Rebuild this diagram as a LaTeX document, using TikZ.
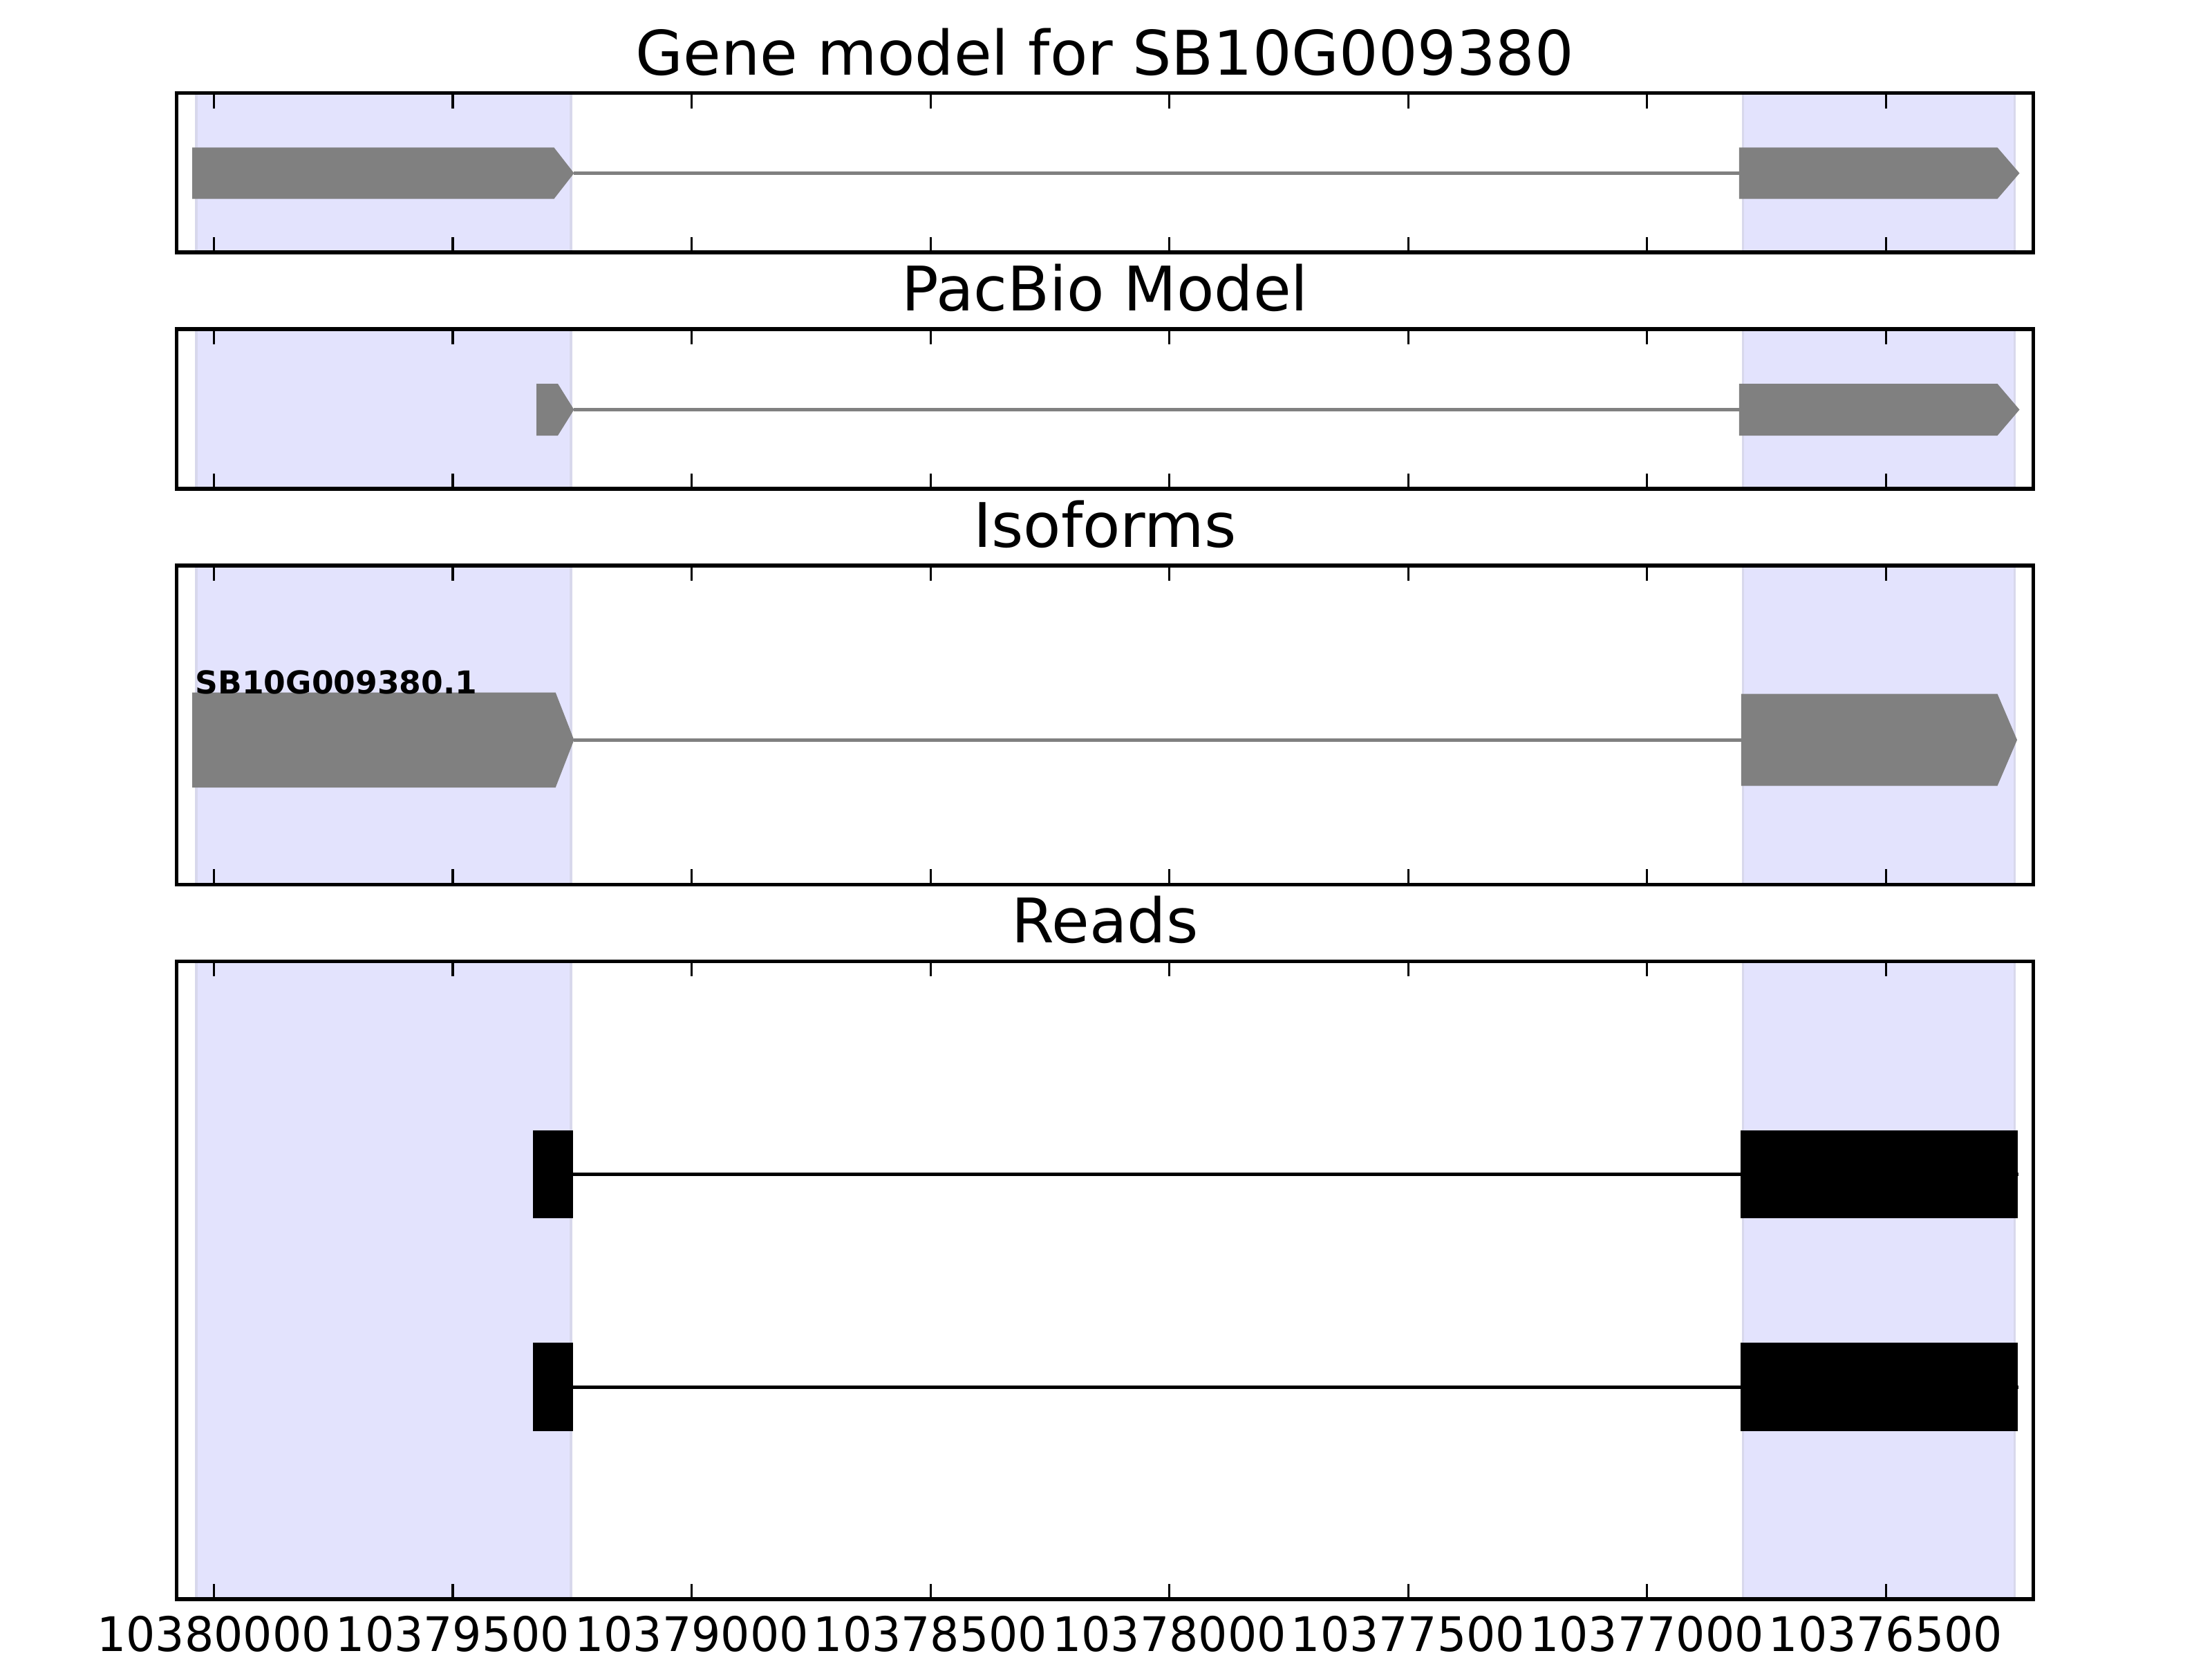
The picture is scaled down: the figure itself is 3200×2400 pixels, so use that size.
\documentclass[tikz,border=0pt]{standalone}
\usepackage{fontspec}
\setmainfont{DejaVu Sans}
\newfontfamily\tickfont[FakeStretch=0.965]{DejaVu Sans}
\definecolor{spanfillc}{RGB}{227,227,253}
\definecolor{spanedgec}{RGB}{216,216,236}
\definecolor{exongray}{RGB}{128,128,128}
\tikzset{
  axbox/.style={draw=black, line width=1pt},
  spanbox/.style={fill=spanfillc, draw=spanedgec, line width=0.55pt},
  exonshape/.style={fill=exongray, draw=none},
  intronline/.style={draw=exongray, line width=0.9pt},
  readexon/.style={fill=black, draw=none},
  readline/.style={draw=black, line width=0.85pt},
  tickmark/.style={draw=black, line width=0.55pt},
  ticklbl/.style={font=\tickfont\fontsize{12.4}{14}\selectfont, anchor=base, inner sep=0pt, outer sep=0pt},
  paneltitle/.style={font=\fontsize{16}{19}\selectfont, anchor=base, inner sep=0pt, outer sep=0pt},
  isolbl/.style={font=\bfseries\fontsize{8.2}{10}\selectfont, anchor=base west, inner sep=0pt, outer sep=0pt},
}
\begin{document}
\begin{tikzpicture}[x=0.18pt, y=-0.18pt]
\useasboundingbox (0,0) rectangle (3200,2400);
\fill[white] (0,0) rectangle (3200,2400);

% blue spans in every panel
\foreach \top/\bot in {134.5/365.2, 476.2/706.9, 817.9/1279.3, 1390.3/2313.1}{
  \draw[spanbox] (284,\top) rectangle (826,\bot);
  \draw[spanbox] (2521.3,\top) rectangle (2914.3,\bot);
}

% Panel 1: gene model
\coordinate (g1e) at (830.4,250.5);
\coordinate (g2s) at (2515.7,250.5);
\fill[exonshape] (278,213.3) -- (801.4,213.3) -- (g1e) -- (801.4,287.7) -- (278,287.7) -- cycle;
\draw[intronline] (g1e) -- (g2s);
\fill[exonshape] (2515.7,213.3) -- (2889.5,213.3) -- (2921.5,250.5) -- (2889.5,287.7) -- (2515.7,287.7) -- cycle;

% Panel 2: PacBio model
\coordinate (p1e) at (830.4,592.5);
\coordinate (p2s) at (2515.7,592.5);
\fill[exonshape] (776,555) -- (807,555) -- (p1e) -- (807,630) -- (776,630) -- cycle;
\draw[intronline] (p1e) -- (p2s);
\fill[exonshape] (2515.7,555) -- (2889.5,555) -- (2921.5,592.5) -- (2889.5,630) -- (2515.7,630) -- cycle;

% Panel 3: isoforms
\coordinate (i1e) at (830.4,1070.2);
\coordinate (i2s) at (2518.7,1070.2);
\fill[exonshape] (278,1001.5) -- (803.7,1001.5) -- (i1e) -- (803.7,1139) -- (278,1139) -- cycle;
\draw[intronline] (i1e) -- (i2s);
\fill[exonshape] (2518.7,1003.5) -- (2889.5,1003.5) -- (2918,1070.2) -- (2889.5,1136.7) -- (2518.7,1136.7) -- cycle;
\node[isolbl] (isoname) at (282.7,1003.3) {SB10G009380.1};

% Panel 4: reads
\coordinate (r1a) at (828.7,1698.7);
\coordinate (r1b) at (2517.7,1698.7);
\coordinate (r2a) at (828.7,2006.3);
\coordinate (r2b) at (2517.7,2006.3);
\draw[readline] (r1a) -- (2920,1698.7);
\draw[readline] (r2a) -- (2920,2006.3);
\fill[readexon] (771,1635) rectangle (828.7,1762.3);
\fill[readexon] (2517.7,1635) rectangle (2918.5,1762.3);
\fill[readexon] (771,1942.3) rectangle (828.7,2070.3);
\fill[readexon] (2517.7,1942.3) rectangle (2918.5,2070.3);

% axes boxes and ticks
\foreach \top/\bot in {134.5/365.2, 476.2/706.9, 817.9/1279.3, 1390.3/2313.1}{
  \foreach \k in {0,...,7}{
    \pgfmathsetmacro{\tx}{309.5+345.5*\k}
    \draw[tickmark] (\tx,\top) -- (\tx,\top+22);
    \draw[tickmark] (\tx,\bot) -- (\tx,\bot-22);
  }
  \draw[axbox] (255.5,\top) rectangle (2941.5,\bot);
}

% titles
\node[paneltitle] (t1) at (1598.5,108) {Gene model for SB10G009380};
\node[paneltitle] (t2) at (1598.5,449.7) {PacBio Model};
\node[paneltitle] (t3) at (1598.5,791.4) {Isoforms};
\node[paneltitle] (t4) at (1598.5,1363.8) {Reads};

% tick labels
\node[ticklbl] (l1) at (309.5,2388) {10380000};
\node[ticklbl] (l2) at (655,2388) {10379500};
\node[ticklbl] (l3) at (1000.5,2388) {10379000};
\node[ticklbl] (l4) at (1346,2388) {10378500};
\node[ticklbl] (l5) at (1691.5,2388) {10378000};
\node[ticklbl] (l6) at (2037,2388) {10377500};
\node[ticklbl] (l7) at (2382.5,2388) {10377000};
\node[ticklbl] (l8) at (2728,2388) {10376500};
\end{tikzpicture}
\end{document}
